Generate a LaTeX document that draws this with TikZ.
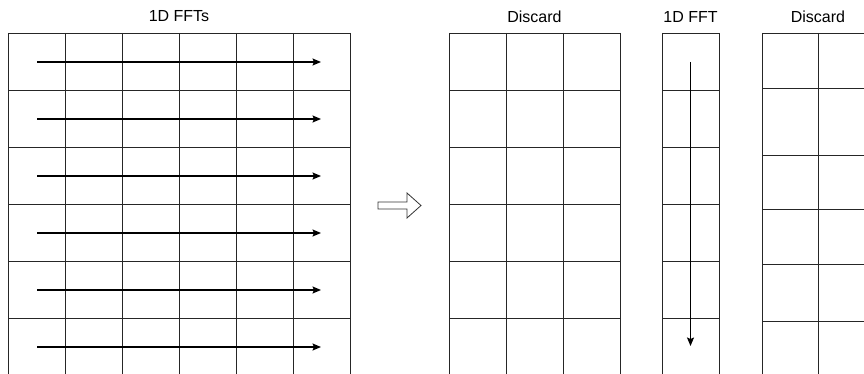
\documentclass[tikz,border=0pt]{standalone}
\usepackage{fontspec}
\setmainfont{Liberation Sans}
\usetikzlibrary{arrows.meta}

\begin{document}
\begin{tikzpicture}[
    x=1pt, y=-1pt,
    title/.style={font=\fontsize{16}{18}\selectfont, inner sep=0pt},
    gridline/.style={draw=black!85, line width=0.9pt},
    fft/.style={draw=black, line width=1.4pt, -{Stealth[length=8.5pt, width=7pt, inset=1.5pt]}},
    hollow/.style={draw=black!80, line width=0.8pt, fill=white}
]
\useasboundingbox (0,0) rectangle (864,374);
\clip (0,0) rectangle (864,374);

% Titles
\node[title] (ttl1) at (179,16.5) {1D FFTs};
\node[title] (ttl2) at (534.5,16.5) {Discard};
\node[title] (ttl3) at (690.5,16.5) {1D FFT};
\node[title] (ttl4) at (818,16.5) {Discard};

% Input grid, 6 x 6
\draw[gridline] (8,33) -- (8,375) (65,33) -- (65,375) (122,33) -- (122,375)
    (179,33) -- (179,375) (236,33) -- (236,375) (293,33) -- (293,375) (350,33) -- (350,375);
\draw[gridline] (8,33) -- (350,33) (8,90) -- (350,90) (8,147) -- (350,147)
    (8,204) -- (350,204) (8,261) -- (350,261) (8,318) -- (350,318);

% Grid after the row transforms
\draw[gridline] (449,33) -- (449,375) (506,33) -- (506,375)
    (563,33) -- (563,375) (620,33) -- (620,375);
\draw[gridline] (449,33) -- (620,33) (449,90) -- (620,90) (449,147) -- (620,147)
    (449,204) -- (620,204) (449,261) -- (620,261) (449,318) -- (620,318);

% Single column for the column transform
\draw[gridline] (662,33) -- (662,375) (719,33) -- (719,375);
\draw[gridline] (662,33) -- (719,33) (662,90) -- (719,90) (662,147) -- (719,147)
    (662,204) -- (719,204) (662,261) -- (719,261) (662,318) -- (719,318);

% Last grid (rows are uneven)
\draw[gridline] (762,33) -- (762,375) (818,33) -- (818,375);
\draw[gridline] (762,33) -- (875,33) (762,88) -- (875,88) (762,155) -- (875,155)
    (762,209) -- (875,209) (762,264) -- (875,264) (762,321) -- (875,321);

% Row FFT arrows
\coordinate (r1a) at (37,62);  \coordinate (r1b) at (321,62);
\coordinate (r2a) at (37,119); \coordinate (r2b) at (321,119);
\coordinate (r3a) at (37,176); \coordinate (r3b) at (321,176);
\coordinate (r4a) at (37,233); \coordinate (r4b) at (321,233);
\coordinate (r5a) at (37,290); \coordinate (r5b) at (321,290);
\coordinate (r6a) at (37,347); \coordinate (r6b) at (321,347);

\draw[fft] (r1a) -- (r1b);
\draw[fft] (r2a) -- (r2b);
\draw[fft] (r3a) -- (r3b);
\draw[fft] (r4a) -- (r4b);
\draw[fft] (r5a) -- (r5b);
\draw[fft] (r6a) -- (r6b);

% Column FFT arrow
\coordinate (c1a) at (690.5,62);
\coordinate (c1b) at (690.5,346);
\draw[fft] (c1a) -- (c1b);

% Step arrow between the stages
\draw[hollow] (378,202) -- (407,202) -- (407,193) -- (421,205.5)
    -- (407,218) -- (407,209) -- (378,209) -- cycle;

\end{tikzpicture}
\end{document}
